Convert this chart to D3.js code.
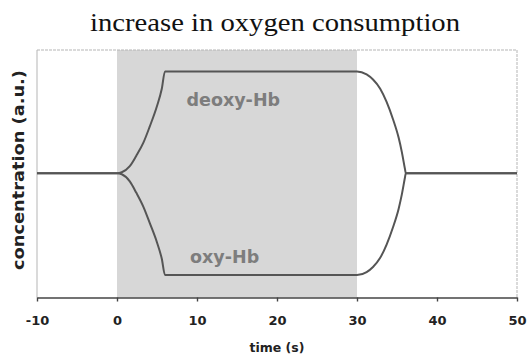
<!DOCTYPE html>
<html>
<head>
<meta charset="utf-8">
<script src="https://cdn.jsdelivr.net/npm/d3@7"></script>
<style>
  html, body { margin: 0; padding: 0; background: #fff; }
  svg { display: block; }
</style>
</head>
<body>
<svg id="chart" width="527" height="358"></svg>
<script>
// Time axis (s) and hemoglobin responses (arbitrary units)
const time   = [-10, 0, 0.6, 1.6, 2.4, 3.3, 4.1, 5.0, 5.6, 6.0, 30.0, 31.2, 32.0, 32.9, 33.7, 34.5, 35.2, 35.6, 36.0, 36.1, 50];
const deoxyHb = [0, 0, 0.01, 0.07, 0.17, 0.30, 0.46, 0.66, 0.83, 1.0, 1.0, 0.97, 0.92, 0.83, 0.70, 0.53, 0.35, 0.21, 0.04, 0, 0];
const oxyHb   = [0, 0, -0.01, -0.08, -0.19, -0.33, -0.49, -0.68, -0.84, -1.0, -1.0, -0.97, -0.92, -0.83, -0.70, -0.53, -0.35, -0.21, -0.04, 0, 0];
const stimulus = [0, 30];
const xTicks = [-10, 0, 10, 20, 30, 40, 50];
const yDomain = [-1.22, 1.21];

const svg = d3.select("#chart");
const plot = { left: 37, right: 517, top: 50, bottom: 297.5 };

const x = d3.scaleLinear().domain([-10, 50]).range([plot.left, plot.right]);
const y = d3.scaleLinear().domain(yDomain).range([plot.bottom, plot.top]);

// Title
svg.append("text")
  .attr("x", 275).attr("y", 31)
  .attr("text-anchor", "middle")
  .attr("font-family", "Liberation Serif, Times New Roman, serif")
  .attr("font-size", 25)
  .attr("textLength", 370)
  .attr("lengthAdjust", "spacingAndGlyphs")
  .attr("fill", "#111")
  .text("increase in oxygen consumption");

// Stimulus period shading
svg.append("rect")
  .attr("x", x(stimulus[0])).attr("y", plot.top)
  .attr("width", x(stimulus[1]) - x(stimulus[0]))
  .attr("height", plot.bottom - plot.top)
  .attr("fill", "#d7d7d7");

// Plot frame (top, left, right)
const frame = svg.append("g").attr("stroke", "#b5b5b5").attr("fill", "none");
frame.append("line").attr("x1", plot.left).attr("x2", plot.right).attr("y1", plot.top).attr("y2", plot.top)
  .attr("stroke-dasharray", "3,1");
frame.append("line").attr("x1", plot.left).attr("x2", plot.left).attr("y1", plot.top).attr("y2", plot.bottom);
frame.append("line").attr("x1", plot.right).attr("x2", plot.right).attr("y1", plot.top).attr("y2", plot.bottom)
  .attr("stroke-dasharray", "3,1");

// Response curves
const line = d3.line()
  .x((d, i) => x(time[i]))
  .y(d => y(d))
  .curve(d3.curveMonotoneX);

[deoxyHb, oxyHb].forEach(series => {
  svg.append("path")
    .datum(series)
    .attr("d", line)
    .attr("fill", "none")
    .attr("stroke", "#555")
    .attr("stroke-width", 2)
    .attr("stroke-linejoin", "round");
});

// Series labels
const labelStyle = sel => sel
  .attr("font-family", "DejaVu Sans, Verdana, sans-serif")
  .attr("font-weight", "bold")
  .attr("font-size", 17.5)
  .attr("fill", "#7d7d7d");
svg.append("text").attr("x", 186.5).attr("y", 106).call(labelStyle).text("deoxy-Hb");
svg.append("text").attr("x", 190).attr("y", 263).call(labelStyle).text("oxy-Hb");

// Time axis
const xAxis = svg.append("g")
  .attr("transform", `translate(0,${plot.bottom})`)
  .call(d3.axisBottom(x).tickValues(xTicks).tickFormat(d => String(d))
    .tickSize(4).tickSizeOuter(0).tickPadding(14));
xAxis.select(".domain").attr("stroke", "#444").attr("stroke-width", 1.6);
xAxis.selectAll(".tick line").attr("stroke", "#444").attr("stroke-width", 1.4);
xAxis.selectAll(".tick text")
  .attr("font-family", "DejaVu Sans, Verdana, sans-serif")
  .attr("font-weight", "bold")
  .attr("font-size", 13)
  .attr("fill", "#222");

svg.append("text")
  .attr("x", (plot.left + plot.right) / 2).attr("y", 352)
  .attr("text-anchor", "middle")
  .attr("font-family", "DejaVu Sans, Verdana, sans-serif")
  .attr("font-weight", "bold")
  .attr("font-size", 12.5)
  .attr("fill", "#222")
  .text("time (s)");

svg.append("text")
  .attr("transform", "translate(24,170) rotate(-90)")
  .attr("text-anchor", "middle")
  .attr("font-family", "DejaVu Sans, Verdana, sans-serif")
  .attr("font-weight", "bold")
  .attr("font-size", 16)
  .attr("textLength", 200)
  .attr("lengthAdjust", "spacingAndGlyphs")
  .attr("fill", "#222")
  .text("concentration (a.u.)");
</script>
</body>
</html>
